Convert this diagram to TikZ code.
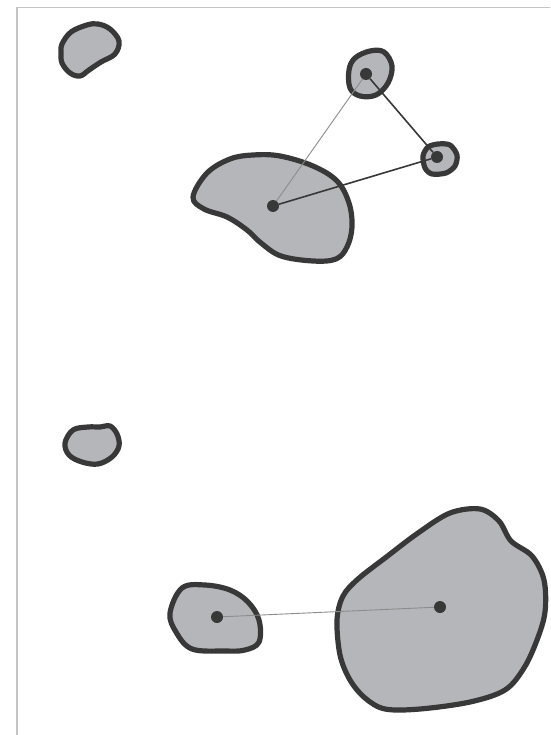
\documentclass[tikz,border=0pt]{standalone}
\begin{document}
\begin{tikzpicture}[x=1pt,y=-1pt]
\definecolor{blobfill}{HTML}{B5B6B9}
\definecolor{blobedge}{HTML}{383838}
\definecolor{framec}{HTML}{C4C4C4}
\tikzset{
  blob/.style={fill=blobfill,draw=blobedge,line width=5.2pt,line join=round},
  hub/.style={circle,fill=blobedge,inner sep=0pt,minimum size=12pt},
  linkthin/.style={draw=black!45,line width=0.9pt},
  linkdark/.style={draw=blobedge,line width=1.6pt}
}
\useasboundingbox (0,0) rectangle (550,735);
\draw[framec,line width=1.5pt] (17,735) -- (17,7.5) -- (550,7.5);
% blobs
\draw[blob] plot[smooth cycle,tension=0.6] coordinates {(62,44) (71,32) (87,25) (98,24) (110,29) (119,41) (115,54) (101,62) (89,70) (80,76) (70,73) (62,63) (61,52)};
\draw[blob] plot[smooth cycle,tension=0.6] coordinates {(349,70) (355,58) (370,51) (384,52) (392,66) (388,83) (376,95) (360,96) (350,88)};
\draw[blob] plot[smooth cycle,tension=0.5] coordinates {(423,156) (428,147) (438,144) (450,145) (457,155) (455,166) (446,173) (432,174) (425,168)};
\draw[blob] plot[smooth cycle,tension=0.6] coordinates {(193,197) (207,173) (230,159) (253,155) (280,156) (313,166) (337,181) (349,203) (352,227) (347,247) (336,259) (313,261) (281,256) (261,243) (247,230) (227,217) (204,209)};
\draw[blob] plot[smooth cycle,tension=0.6] coordinates {(65,443) (73,430) (88,427) (100,427) (110,426) (117,434) (119,446) (112,457) (98,464) (82,462) (69,455)};
\draw[blob] plot[smooth cycle,tension=0.6] coordinates {(170,613) (182,588) (205,585) (230,590) (248,602) (259,620) (259,642) (245,650) (225,651) (192,649) (176,632)};
\draw[blob] plot[smooth cycle,tension=0.55] coordinates {(337,620) (343,596) (358,579) (385,558) (418,533) (450,513) (480,509) (499,521) (511,541) (532,556) (544,580) (545,612) (537,640) (524,668) (505,690) (470,702) (420,709) (385,709) (365,698) (350,680) (340,655)};
% hubs
\node[hub] (a) at (273,206) {};
\node[hub] (b) at (366,74) {};
\node[hub] (c) at (437,157) {};
\node[hub] (d) at (217,617) {};
\node[hub] (e) at (440,607) {};
% links
\draw[linkthin] (a) -- (b);
\draw[linkdark] (b) -- (c);
\draw[linkdark] (a) -- (c);
\draw[linkthin] (d) -- (e);
\end{tikzpicture}
\end{document}
